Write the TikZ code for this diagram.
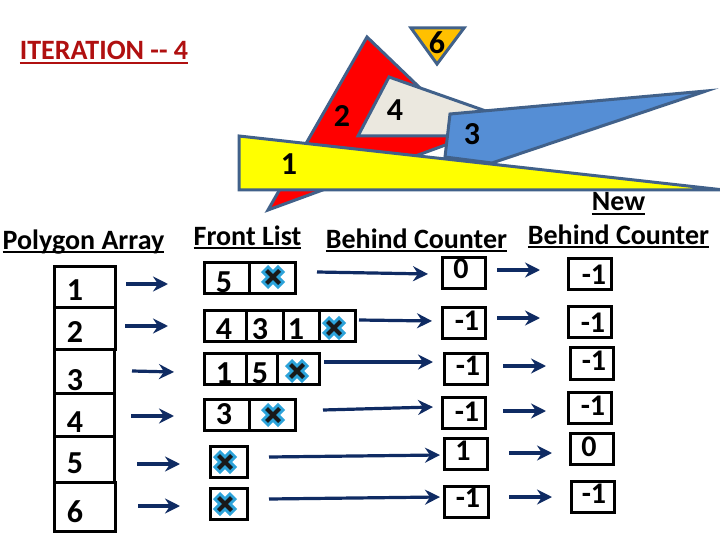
\documentclass[tikz,border=0pt]{standalone}
\usepackage{fontspec}
\setmainfont{Carlito}[BoldFont=Carlito Bold]
\usetikzlibrary{arrows.meta,calc}
\definecolor{polyline}{HTML}{41618A}
\definecolor{arrowblue}{HTML}{0F2B63}
\definecolor{crossblue}{HTML}{2CA3DA}
\definecolor{polyred}{HTML}{FF0000}
\definecolor{polygrey}{HTML}{EBE8DF}
\definecolor{polyblue}{HTML}{558ED5}
\definecolor{polyorange}{HTML}{FFC000}
\definecolor{polyyellow}{RGB}{255,255,0}
\definecolor{titlered}{HTML}{B01010}
\newcommand{\ulin}[1]{\setbox0\hbox{#1}\leavevmode\rlap{\rule[-4pt]{\wd0}{2.4pt}}\box0}
\tikzset{
  poly/.style={draw=polyline,line width=3pt,line join=miter,miter limit=20},
  cellbox/.style={draw=black,line width=3pt,inner sep=0pt,outer sep=0pt,fill=white},
  digit/.style={font=\fontsize{32}{32}\selectfont\bfseries,inner sep=0pt,anchor=center},
  smalldigit/.style={font=\fontsize{30}{30}\selectfont\bfseries,inner sep=0pt,anchor=center},
  header/.style={font=\fontsize{28}{28}\selectfont\bfseries,inner sep=0pt,anchor=base},
  conn/.style={draw=arrowblue,line width=3.2pt,-{Stealth[length=15pt,width=15pt,inset=5pt]}},
}
% name, x1, y1, x2, y2
\newcommand{\cellbx}[5]{%
  \pgfmathsetmacro{\cw}{#4-#2}\pgfmathsetmacro{\ch}{#5-#3}%
  \pgfmathsetmacro{\cx}{(#4+#2)/2}\pgfmathsetmacro{\cy}{(#5+#3)/2}%
  \node[cellbox,minimum width=\cw pt,minimum height=\ch pt] (#1) at (\cx,\cy) {};}
% name, x, y
\newcommand{\crossmk}[3]{%
  \coordinate (#1) at (#2,#3);
  \draw[crossblue,line width=10pt] ($(#1)+(-8.5,-8.5)$) -- ($(#1)+(8.5,8.5)$) ($(#1)+(-8.5,8.5)$) -- ($(#1)+(8.5,-8.5)$);
  \draw[black!90,line width=4pt] ($(#1)+(-6.5,-6.5)$) -- ($(#1)+(6.5,6.5)$) ($(#1)+(-6.5,6.5)$) -- ($(#1)+(6.5,-6.5)$);}
% name, x1, y1, x2, y2
\newcommand{\arrw}[5]{%
  \coordinate (#1s) at (#2,#3);\coordinate (#1e) at (#4,#5);
  \draw[conn] (#1s) -- (#1e);}
\begin{document}
\begin{tikzpicture}[x=1pt,y=-1pt]
\useasboundingbox (0,0) rectangle (720,540);
\fill[white] (0,0) rectangle (720,540);
% polygons
\draw[poly,fill=polyred] (367,37) -- (268,210) -- (470,136) -- cycle;
\draw[poly,fill=polygrey] (389,77) -- (500,116) -- (460,136) -- (358,136) -- cycle;
\draw[poly,fill=polyblue] (450,114) -- (706,91) -- (492,163) -- (445,157) -- cycle;
\draw[poly,fill=polyyellow] (239,136) -- (724,190) -- (239,190) -- cycle;
\draw[poly,fill=polyorange] (411,28) -- (464,28) -- (437,64) -- cycle;
\node[digit] (p6) at (437,43) {6};
\node[digit] (p4) at (395,110) {4};
\node[digit] (p2) at (342,116) {2};
\node[digit] (p3) at (472,134) {3};
\node[digit] (p1) at (289,164) {1};
% title and headers
\node[header,text=titlered] (title) at (104,60) {\ulin{ITERATION {-}{-} 4}};
\node[header] (hpoly) at (83.5,249) {\ulin{Polygon Array}};
\node[header] (hfront) at (247.5,245) {\ulin{Front List}};
\node[header] (hbehind) at (416.5,248) {\ulin{Behind Counter}};
\node[header] (hnew) at (618.5,211) {\ulin{New}};
\node[header] (hbehindb) at (618.5,244) {\ulin{Behind Counter}};
% polygon array
\cellbx{a1}{54}{266}{115}{307}
\cellbx{a2}{54}{307}{115}{349}
\cellbx{a3}{54}{349}{114}{393}
\cellbx{a4}{54}{393}{114}{436}
\cellbx{a5}{54}{436}{114}{482}
\cellbx{a6}{54}{482}{115}{531}
\node[digit] (ta1) at (75,290) {1};
\node[digit] (ta2) at (75,332) {2};
\node[digit] (ta3) at (75,380) {3};
\node[digit] (ta4) at (75,422) {4};
\node[digit] (ta5) at (75,463) {5};
\node[digit] (ta6) at (75,512) {6};
\arrw{x1}{126}{284}{168}{284}
\arrw{x2}{125}{326}{168}{326}
\arrw{x3}{132}{371}{174}{372}
\arrw{x4}{131}{416}{174}{416}
\arrw{x5}{137}{464}{180}{464}
\arrw{x6}{138}{506}{180}{506}
% front list
\cellbx{f1a}{204}{262}{249}{293}
\cellbx{f1b}{249}{262}{295}{293}
\cellbx{f2a}{204}{310}{246}{341}
\cellbx{f2b}{246}{310}{283}{341}
\cellbx{f2c}{283}{310}{319}{341}
\cellbx{f2d}{319}{310}{355}{341}
\cellbx{f3a}{204}{353}{246}{384}
\cellbx{f3b}{246}{353}{277}{384}
\cellbx{f3c}{277}{353}{319}{384}
\cellbx{f4a}{204}{399}{249}{430}
\cellbx{f4b}{249}{399}{295}{430}
\cellbx{f5a}{210}{446}{247}{477}
\cellbx{f6a}{210}{488}{247}{519}
\node[digit] (tf1) at (224,282) {5};
\node[digit] (tf2a) at (224,329) {4};
\node[digit] (tf2b) at (260,329) {3};
\node[digit] (tf2c) at (296,329) {1};
\node[digit] (tf3a) at (224,373) {1};
\node[digit] (tf3b) at (260,373) {5};
\node[digit] (tf4) at (224,414) {3};
\crossmk{c1}{273}{277}
\crossmk{c2}{334}{328}
\crossmk{c3}{297}{371}
\crossmk{c4}{273}{415}
\crossmk{c5}{225}{462}
\crossmk{c6}{225}{504}
% arrows to behind counter
\arrw{y1}{317}{272}{428}{274}
\arrw{y2}{359}{320}{432}{321}
\arrw{y3}{324}{362}{433}{362}
\arrw{y4}{323}{410}{433}{407}
\arrw{y5}{269}{457}{440}{455}
\arrw{y6}{269}{499}{440}{497}
% behind counter
\cellbx{b1}{442}{257}{485}{288}
\cellbx{b2}{442}{307}{485}{338}
\cellbx{b3}{444}{353}{487}{384}
\cellbx{b4}{442}{397}{485}{428}
\cellbx{b5}{444}{438}{487}{469}
\cellbx{b6}{444}{486}{488}{517}
\node[smalldigit] (tb1) at (461,269) {0};
\node[smalldigit] (tb2) at (467,321) {-1};
\node[smalldigit] (tb3) at (468,366) {-1};
\node[smalldigit] (tb4) at (467,412) {-1};
\node[smalldigit] (tb5) at (463,451) {1};
\node[smalldigit] (tb6) at (468,498) {-1};
% arrows to new counter
\arrw{z1}{497}{270}{540}{270}
\arrw{z2}{497}{318}{540}{318}
\arrw{z3}{503}{366}{546}{366}
\arrw{z4}{503}{411}{546}{411}
\arrw{z5}{509}{453}{552}{453}
\arrw{z6}{509}{497}{552}{497}
% new behind counter
\cellbx{n1}{568}{258}{611}{289}
\cellbx{n2}{568}{306}{611}{337}
\cellbx{n3}{570}{347}{613}{379}
\cellbx{n4}{568}{392}{611}{423}
\cellbx{n5}{570}{433}{613}{464}
\cellbx{n6}{571}{481}{614}{512}
\node[smalldigit] (tn1) at (594,275) {-1};
\node[smalldigit] (tn2) at (593,323) {-1};
\node[smalldigit] (tn3) at (594,361) {-1};
\node[smalldigit] (tn4) at (593,406) {-1};
\node[smalldigit] (tn5) at (589,447) {0};
\node[smalldigit] (tn6) at (594,494) {-1};
\end{tikzpicture}
\end{document}
